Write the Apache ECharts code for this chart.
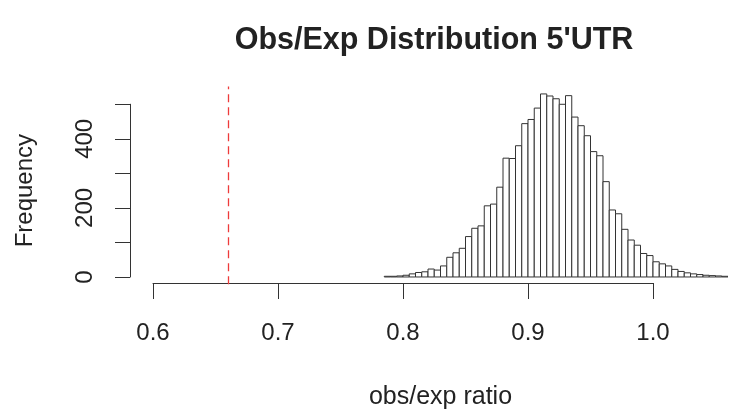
<!DOCTYPE html>
<html><head><meta charset="utf-8">
<script src="https://cdn.jsdelivr.net/npm/echarts@6/dist/echarts.min.js"></script>
<style>html,body{margin:0;padding:0;background:#fff}#c{width:733px;height:411px}</style>
</head><body><div id="c"></div>
<script>
const titleText = "Obs/Exp Distribution 5'UTR";
const xTitle = 'obs/exp ratio';
const yTitle = 'Frequency';
const binStart = 0.785;
const binWidth = 0.005;
const counts = [2,2,3,5,9, 13,15,23,20,32, 57,70,83,117,141, 148,206,211,260,344,
  343,380,444,456,489, 530,524,516,500,525, 463,438,409,363,351, 276,194,183,138,107,
  92,68,62,44,38, 32,22,16,12,9, 7,5,4,3,2];
const xTicks = [0.6, 0.7, 0.8, 0.9, 1.0];
const yTicks = [0, 100, 200, 300, 400, 500];
const yLabelled = [0, 200, 400];
const refLine = 0.661;

const bins = counts.map((c, i) => [binStart + i * binWidth, binStart + (i + 1) * binWidth, c]);

const FONT = 'Liberation Sans, Arial, sans-serif';
const INK = '#222';
const chart = echarts.init(document.getElementById('c'), null, {renderer: 'canvas'});
chart.setOption({
  animation: false,
  backgroundColor: '#fff',
  title: {
    text: titleText, left: 429, top: 20, textAlign: 'center',
    textStyle: {fontFamily: FONT, fontSize: 30.5, fontWeight: 'bold', color: INK}
  },
  grid: [
    {left: 153, right: 5, top: 86.6, bottom: 126.7},
    {left: 130, width: 10, top: 104.25, bottom: 134},
    {left: 153, width: 500, top: 282, height: 1}
  ],
  xAxis: [
    {gridIndex: 0, type: 'value', min: 0.6, max: 1.06, show: true, position: 'bottom',
      axisLine: {show: false}, axisTick: {show: false}, axisLabel: {show: false},
      splitLine: {show: false},
      name: xTitle, nameLocation: 'middle', nameGap: 100,
      nameTextStyle: {fontFamily: FONT, fontSize: 25, color: INK}
    },
    {gridIndex: 1, type: 'value', min: 0, max: 1, show: false},
    {gridIndex: 2, type: 'value', min: xTicks[0], max: xTicks[xTicks.length - 1], interval: 0.1,
      position: 'bottom',
      axisLine: {show: true, lineStyle: {color: '#333', width: 1}},
      axisTick: {show: true, length: 16, lineStyle: {color: '#333', width: 1}},
      splitLine: {show: false},
      axisLabel: {margin: 38, fontFamily: FONT, fontSize: 24, color: INK,
        formatter: v => v.toFixed(1)}
    }
  ],
  yAxis: [
    {gridIndex: 0, type: 'value', min: -21.2, max: 551.2, show: false},
    {gridIndex: 1, type: 'value', min: yTicks[0], max: yTicks[yTicks.length - 1], interval: 100,
      position: 'left',
      axisLine: {show: true, lineStyle: {color: '#333', width: 1}},
      axisTick: {show: true, length: 15, lineStyle: {color: '#333', width: 1}},
      splitLine: {show: false},
      axisLabel: {rotate: 90, margin: 33, fontFamily: FONT, fontSize: 24, color: INK,
        formatter: v => (yLabelled.indexOf(v) >= 0 ? String(v) : '')},
      name: yTitle, nameLocation: 'middle', nameGap: 93, nameRotate: 90,
      nameTextStyle: {fontFamily: FONT, fontSize: 24, color: INK}
    },
    {gridIndex: 2, type: 'value', min: 0, max: 1, show: false}
  ],
  series: [{
    type: 'custom',
    xAxisIndex: 0, yAxisIndex: 0,
    data: bins,
    encode: {x: [0, 1], y: 2},
    clip: true,
    renderItem: function (params, api) {
      const p0 = api.coord([api.value(0), api.value(2)]);
      const p1 = api.coord([api.value(1), 0]);
      return {
        type: 'rect',
        shape: {x: p0[0], y: p0[1], width: p1[0] - p0[0], height: p1[1] - p0[1]},
        style: {fill: '#fff', stroke: '#333', lineWidth: 1}
      };
    },
    markLine: {
      silent: true, symbol: ['none', 'none'], label: {show: false},
      lineStyle: {color: '#ee3b3b', type: [8, 5], width: 1.3},
      data: [{xAxis: refLine}]
    }
  }]
});
</script></body></html>
